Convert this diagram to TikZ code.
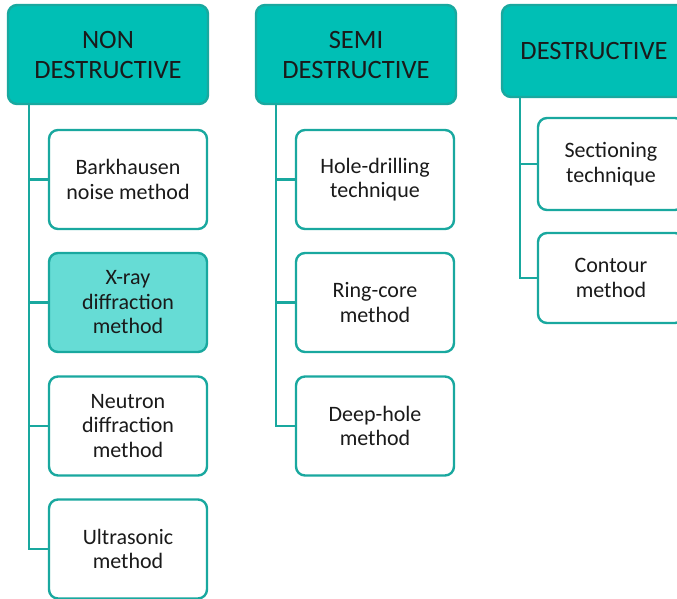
\documentclass[tikz,border=0pt]{standalone}
\usepackage{fontspec}
\setmainfont{Carlito}
\definecolor{tealfill}{HTML}{00BFB5}
\definecolor{tealedge}{HTML}{19A89F}
\definecolor{lightteal}{HTML}{66DCD5}
\definecolor{inktext}{HTML}{1A1A1A}
\tikzset{
  header/.style={draw=tealedge, fill=tealfill, line width=2.4pt, rounded corners=9pt,
    minimum width=200pt, minimum height=99pt, align=center, text=inktext,
    font=\fontsize{26.5}{30}\selectfont},
  item/.style={draw=tealedge, fill=white, line width=2.4pt, rounded corners=9pt,
    minimum width=158pt, minimum height=99pt, align=center, text=inktext,
    font=\fontsize{22}{24.5}\selectfont},
  conn/.style={draw=tealedge, line width=2.4pt}
}
\begin{document}
\begin{tikzpicture}[x=1pt,y=-1pt]
\useasboundingbox (0,0) rectangle (677,599);
\clip (0,0) rectangle (677,599);

% column 1: non destructive methods
\node[header] (h1) at (108,54.5) {NON\\DESTRUCTIVE};
\node[item] (a1) at (128,179.5) {Barkhausen\\noise method};
\node[item, fill=lightteal] (a2) at (128,302.5) {X-ray\\diffraction\\method};
\node[item] (a3) at (128,426) {Neutron\\diffraction\\method};
\node[item] (a4) at (128,549) {Ultrasonic\\method};
\coordinate (s1) at ([xshift=22pt]h1.south west);
\draw[conn] (s1) |- (a4.west);
\foreach \c in {a1,a2,a3} \draw[conn] (s1 |- \c.west) -- (\c.west);

% column 2: semi destructive methods
\node[header] (h2) at (356,54.5) {SEMI\\DESTRUCTIVE};
\node[item] (b1) at (375,179.5) {Hole-drilling\\technique};
\node[item] (b2) at (375,302.5) {Ring-core\\method};
\node[item] (b3) at (375,426) {Deep-hole\\method};
\coordinate (s2) at ([xshift=21pt]h2.south west);
\draw[conn] (s2) |- (b3.west);
\foreach \c in {b1,b2} \draw[conn] (s2 |- \c.west) -- (\c.west);

% column 3: destructive methods
\node[header, minimum width=184pt, minimum height=92pt] (h3) at (594,51) {DESTRUCTIVE};
\node[item, minimum width=146pt, minimum height=92pt] (c1) at (611,164) {Sectioning\\technique};
\node[item, minimum width=146pt, minimum height=90pt] (c2) at (611,278) {Contour\\method};
\coordinate (s3) at ([xshift=19pt]h3.south west);
\draw[conn] (s3) |- (c2.west);
\draw[conn] (s3 |- c1.west) -- (c1.west);
\end{tikzpicture}
\end{document}
